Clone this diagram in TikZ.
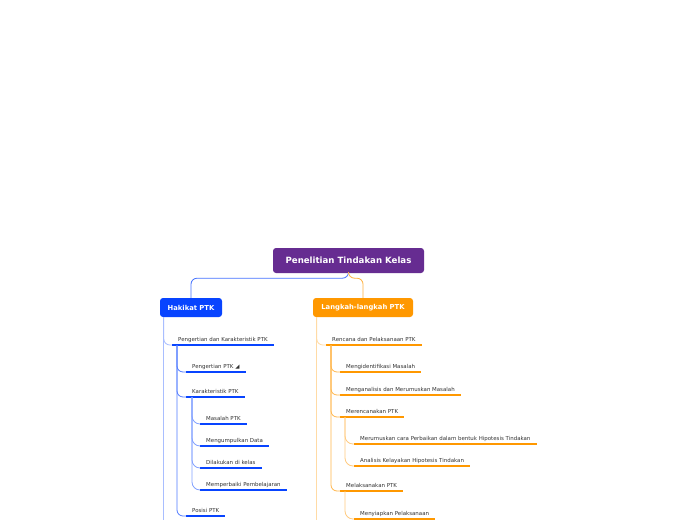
\documentclass[tikz,border=0pt]{standalone}
\usepackage{fontspec}
\setmainfont{DejaVu Sans}

\definecolor{rootpurple}{RGB}{102,44,145}
\definecolor{hblue}{RGB}{8,68,255}
\definecolor{lorange}{RGB}{255,152,0}
\definecolor{leafgray}{RGB}{51,51,51}

\tikzset{
	mainbox/.style={fill=#1, rounded corners=3pt, text=white, minimum height=19pt, inner xsep=6pt,
		font=\bfseries\fontsize{6.8}{8}\selectfont},
	topic/.style={anchor=south west, inner xsep=6pt, inner ysep=3pt, text depth=0pt, text=leafgray,
		font=\fontsize{5.45}{6.5}\selectfont,
		append after command={(\tikzlastnode.south west) edge[draw=#1, line width=2.4pt] (\tikzlastnode.south east)}},
	link/.style={draw=#1, line width=0.8pt, rounded corners=6pt},
}

\begin{document}
\begin{tikzpicture}[x=1pt, y=-1pt]
	\useasboundingbox[fill=white] (0,0) rectangle (696,520);

	% central topic and the two main branches
	\node[mainbox=rootpurple, minimum width=151pt, minimum height=25pt,
		font=\bfseries\fontsize{8.6}{10}\selectfont] (ptk) at (348.5,260.5) {Penelitian Tindakan Kelas};
	\node[mainbox=hblue, minimum width=62pt] (hak) at (191,307.5) {Hakikat PTK};
	\node[mainbox=lorange, minimum width=100pt] (lang) at (363,307.5) {Langkah-langkah PTK};

	\draw[link=hblue!75] (ptk.south) -- ++(0,5) -| (hak.north);
	\draw[link=lorange!75] (ptk.south) -- ++(0,5) -| (lang.north);

	% Hakikat PTK
	\node[topic=hblue] (pdk) at (172,345) {Pengertian dan Karakteristik PTK};
	\node[topic=hblue] (pp) at (186,372) {Pengertian PTK ◢};
	\node[topic=hblue] (kp) at (186,397) {Karakteristik PTK};
	\node[topic=hblue] (mp) at (200,424) {Masalah PTK};
	\node[topic=hblue] (md) at (200,446) {Mengumpulkan Data};
	\node[topic=hblue] (dk) at (200,468) {Dilakukan di kelas};
	\node[topic=hblue] (mpb) at (200,490) {Memperbaiki Pembelajaran};
	\node[topic=hblue] (pos) at (186,516) {Posisi PTK};

	\coordinate (hak-trunk) at ([xshift=4pt]hak.south west);
	\coordinate (hak-end) at (hak-trunk |- 0,520);
	\draw[link=hblue!35] (hak-trunk) -- (hak-end);
	\draw[link=hblue!35] (hak-trunk) |- (pdk.south west);
	\foreach \c in {pp,kp,pos}
		\draw[link=hblue!70] ([xshift=5pt]pdk.south west) |- (\c.south west);
	\foreach \c in {mp,md,dk,mpb}
		\draw[link=hblue!50, rounded corners=8pt] ([xshift=6pt]kp.south west) |- (\c.south west);

	% Langkah-langkah PTK
	\node[topic=lorange] (rpp) at (326,345) {Rencana dan Pelaksanaan PTK};
	\node[topic=lorange] (mim) at (340,372) {Mengidentifikasi Masalah};
	\node[topic=lorange] (mmm) at (340,395) {Menganalisis dan Merumuskan Masalah};
	\node[topic=lorange] (mrp) at (340,417) {Merencanakan PTK};
	\node[topic=lorange] (mcp) at (354,444) {Merumuskan cara Perbaikan dalam bentuk Hipotesis Tindakan};
	\node[topic=lorange] (akh) at (354,466) {Analisis Kelayakan Hipotesis Tindakan};
	\node[topic=lorange] (mlp) at (340,491) {Melaksanakan PTK};
	\node[topic=lorange] (msp) at (354,519) {Menyiapkan Pelaksanaan};

	\coordinate (lang-trunk) at ([xshift=4pt]lang.south west);
	\coordinate (lang-end) at (lang-trunk |- 0,520);
	\draw[link=lorange!35] (lang-trunk) -- (lang-end);
	\draw[link=lorange!35] (lang-trunk) |- (rpp.south west);
	\foreach \c in {mim,mmm,mrp,mlp}
		\draw[link=lorange!70] ([xshift=5pt]rpp.south west) |- (\c.south west);
	\foreach \c in {mcp,akh}
		\draw[link=lorange!50, rounded corners=8pt] ([xshift=5pt]mrp.south west) |- (\c.south west);
	\draw[link=lorange!50, rounded corners=8pt] ([xshift=5pt]mlp.south west) |- (msp.south west);
\end{tikzpicture}
\end{document}
